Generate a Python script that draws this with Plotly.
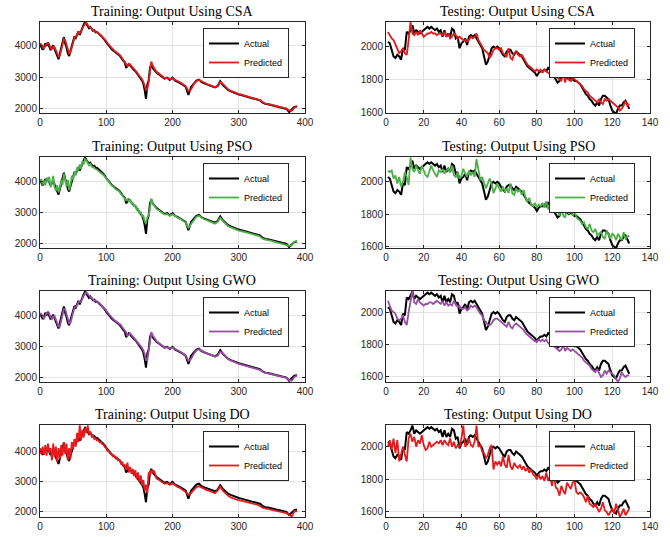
import plotly.graph_objects as go

# ---------------- data ----------------
# training sample positions (denser where the series is noisy)
train_x = list(range(0, 176, 2)) + list(range(176, 389, 4))
test_x = list(range(1, 130))

train_actual = [4060, 3980, 3880, 3950, 4080, 4000, 4110, 3980, 3870, 3950,
                4020, 3900, 3800, 3640, 3580, 3760, 3950, 4100, 4280, 4080,
                3960, 3760, 3680, 3850, 4000, 4180, 4300, 4250, 4380, 4460,
                4350, 4480, 4600, 4680, 4760, 4700, 4620, 4560, 4600, 4520,
                4480, 4500, 4430, 4440, 4390, 4360, 4320, 4280, 4240, 4180,
                4110, 4050, 4000, 3950, 3900, 3860, 3820, 3800, 3770, 3730,
                3700, 3620, 3580, 3520, 3480, 3300, 3380, 3420, 3380, 3320,
                3300, 3230, 3200, 3130, 3080, 3030, 2960, 2900, 2800, 2600,
                2320, 2780, 2900, 3300, 3420, 3300, 3230, 3200,
                3150, 3090, 3020, 2960, 2990, 2920, 2990, 2900, 2860, 2820,
                2760, 2700, 2440, 2700, 2800, 2900, 2930, 2850, 2810, 2780,
                2750, 2720, 2680, 2730, 2880, 2760, 2680, 2600, 2560, 2520,
                2490, 2460, 2440, 2410, 2390, 2360, 2340, 2320, 2300, 2270,
                2200, 2160, 2150, 2130, 2100, 2080, 2070, 2050, 2030, 2000,
                1900, 1980, 2060, 2080]

train_csa = [4080, 4050, 3950, 3920, 4020, 4060, 4080, 4050, 3920, 3900,
             3980, 3960, 3850, 3760, 3660, 3700, 3880, 4020, 4220, 4180,
             4020, 3850, 3760, 3800, 3960, 4120, 4260, 4280, 4340, 4440,
             4400, 4440, 4560, 4640, 4700, 4740, 4660, 4600, 4590, 4560,
             4500, 4490, 4460, 4430, 4410, 4370, 4340, 4300, 4260, 4210,
             4150, 4080, 4030, 3980, 3930, 3890, 3850, 3820, 3790, 3760,
             3720, 3670, 3610, 3560, 3510, 3420, 3360, 3430, 3420, 3360,
             3320, 3280, 3230, 3170, 3110, 3060, 3000, 2940, 2860, 2720,
             2600, 2640, 2850, 3200, 3500, 3380, 3280, 3230,
             3180, 3110, 3050, 2980, 2980, 2950, 2970, 2930, 2880, 2840,
             2780, 2720, 2560, 2620, 2780, 2880, 2920, 2870, 2820, 2790,
             2760, 2730, 2690, 2710, 2850, 2790, 2700, 2620, 2570, 2530,
             2500, 2470, 2450, 2420, 2400, 2370, 2350, 2330, 2310, 2280,
             2220, 2170, 2160, 2140, 2110, 2090, 2070, 2060, 2040, 2010,
             1950, 1940, 2040, 2090]

train_pso = [3980, 4080, 3900, 4020, 3880, 4120, 3980, 4150, 3820, 3950,
             4180, 3820, 3700, 3880, 3650, 3800, 4050, 3900, 4250, 4050,
             3850, 4050, 3720, 3900, 4180, 4050, 4300, 4200, 4450, 4350,
             4550, 4400, 4650, 4550, 4720, 4680, 4600, 4520, 4580, 4480,
             4460, 4420, 4400, 4380, 4350, 4300, 4280, 4250, 4200, 4160,
             4100, 4050, 3990, 3960, 3880, 3850, 3820, 3760, 3740, 3700,
             3680, 3600, 3570, 3490, 3460, 3380, 3450, 3350, 3420, 3300,
             3320, 3200, 3250, 3100, 3120, 3000, 3020, 2880, 2900, 2720,
             2680, 2850, 2900, 3150, 3450, 3300, 3220, 3180,
             3120, 3060, 2990, 2940, 2960, 2900, 2950, 2880, 2840, 2800,
             2740, 2680, 2520, 2640, 2760, 2870, 2900, 2830, 2790, 2760,
             2720, 2700, 2650, 2700, 2840, 2740, 2650, 2570, 2530, 2490,
             2460, 2430, 2410, 2390, 2360, 2340, 2310, 2300, 2270, 2240,
             2170, 2140, 2130, 2110, 2080, 2060, 2040, 2020, 2000, 1980,
             1940, 1960, 2070, 2100]

train_gwo = [4060, 4040, 3960, 3900, 3990, 4070, 4060, 4060, 3940, 3880,
             3960, 3980, 3860, 3760, 3640, 3640, 3840, 3990, 4200, 4200,
             4040, 3860, 3740, 3760, 3930, 4100, 4250, 4270, 4320, 4420,
             4420, 4420, 4540, 4630, 4700, 4740, 4680, 4610, 4580, 4570,
             4500, 4480, 4470, 4430, 4420, 4380, 4340, 4310, 4270, 4220,
             4160, 4090, 4030, 3980, 3930, 3890, 3850, 3820, 3800, 3760,
             3730, 3690, 3620, 3570, 3510, 3460, 3340, 3390, 3420, 3370,
             3320, 3290, 3230, 3180, 3120, 3070, 3010, 2950, 2880, 2760,
             2560, 2560, 2820, 3150, 3460, 3360, 3280, 3230,
             3170, 3100, 3030, 2970, 2970, 2940, 2960, 2920, 2870, 2830,
             2770, 2710, 2540, 2600, 2760, 2870, 2910, 2860, 2810, 2780,
             2750, 2720, 2680, 2700, 2830, 2780, 2680, 2600, 2550, 2510,
             2470, 2440, 2420, 2390, 2370, 2340, 2320, 2300, 2280, 2250,
             2190, 2150, 2140, 2120, 2090, 2070, 2050, 2040, 2020, 1990,
             1930, 1900, 2020, 2070]

train_do = [4100, 3900, 4150, 3880, 4200, 3850, 4250, 3950, 4100, 3700,
            4250, 3800, 4150, 3650, 4100, 3750, 4200, 3850, 4300, 3900,
            4250, 3700, 4100, 3750, 4300, 4050, 4400, 4150, 4600, 4300,
            4850, 4350, 4700, 4450, 4750, 4600, 4850, 4550, 4650, 4480,
            4520, 4400, 4430, 4350, 4360, 4290, 4300, 4230, 4220, 4130,
            4100, 4000, 4010, 3920, 3900, 3830, 3850, 3760, 3790, 3700,
            3720, 3600, 3650, 3500, 3560, 3380, 3620, 3300, 3480, 3260,
            3420, 3180, 3380, 3080, 3300, 2980, 3200, 2880, 3050, 2700,
            2900, 2620, 3300, 3200, 3380, 3300, 3360, 3200,
            3100, 3050, 2980, 2930, 2950, 2890, 2940, 2870, 2820, 2780,
            2720, 2660, 2560, 2620, 2720, 2820, 2850, 2800, 2750, 2720,
            2690, 2660, 2620, 2700, 2830, 2700, 2600, 2530, 2480, 2440,
            2410, 2390, 2370, 2350, 2320, 2300, 2280, 2260, 2240, 2200,
            2140, 2120, 2100, 2090, 2060, 2040, 2030, 2010, 1990, 1960,
            1920, 1850, 2030, 2020]

test_actual = [2030, 2020, 1980, 1940, 1930, 1950, 1940, 1920, 1990, 1980,
               2090, 2080, 2100, 2130, 2080, 2100, 2090, 2080, 2090, 2100,
               2110, 2120, 2110, 2120, 2110, 2100, 2110, 2090, 2100, 2060,
               2100, 2060, 2080, 2060, 2110, 2100, 2050, 2060, 1990, 2020,
               2030, 2050, 2010, 2060, 2070, 2060, 2070, 2050, 2030, 2010,
               1990, 1940, 1890, 1910, 1960, 1990, 2000, 1990, 2000, 1990,
               1970, 1950, 1940, 1970, 1980, 1980, 1960, 1950, 1970, 1960,
               1950, 1940, 1920, 1900, 1880, 1870, 1860, 1850, 1840, 1820,
               1840, 1850, 1850, 1860, 1850, 1870, 1860, 1850, 1820, 1800,
               1780, 1790, 1830, 1820, 1840, 1810, 1800, 1810, 1800, 1790,
               1790, 1780, 1770, 1750, 1730, 1710, 1700, 1680, 1670, 1650,
               1640, 1660, 1640, 1680, 1700, 1700, 1690, 1680, 1640, 1610,
               1600, 1590, 1620, 1640, 1640, 1660, 1670, 1640, 1620]

test_csa = [2090, 2070, 2050, 2040, 2010, 1990, 1960, 1970, 1990, 1960,
            1950, 2040, 2150, 2080, 2070, 2090, 2070, 2100, 2080, 2060,
            2070, 2080, 2080, 2090, 2080, 2080, 2070, 2080, 2080, 2070,
            2090, 2060, 2080, 2050, 2060, 2080, 2070, 2050, 2060, 2050,
            2040, 2040, 2030, 2040, 2060, 2050, 2060, 2080, 2040, 2020,
            2000, 1980, 1970, 1960, 1930, 1950, 1980, 1990, 1990, 1980,
            1990, 1960, 1950, 1940, 1990, 1930, 1920, 1960, 1970, 1950,
            1940, 1950, 1930, 1910, 1890, 1880, 1870, 1860, 1850, 1860,
            1850, 1860, 1840, 1860, 1850, 1840, 1830, 1850, 1830, 1820,
            1810, 1800, 1790, 1850, 1780, 1830, 1800, 1790, 1810, 1800,
            1790, 1780, 1770, 1760, 1740, 1730, 1720, 1700, 1690, 1680,
            1670, 1660, 1680, 1660, 1650, 1680, 1670, 1680, 1670, 1660,
            1650, 1640, 1630, 1610, 1620, 1640, 1670, 1640, 1650]

test_pso = [2070, 2060, 2070, 2020, 2040, 1990, 2030, 1970, 2000, 2060,
            2030, 1980, 2150, 2080, 2060, 2100, 2070, 2050, 2100, 2070,
            2040, 2030, 2060, 2100, 2070, 2050, 2030, 2070, 2060, 2080,
            2050, 2070, 2080, 2060, 2100, 2040, 2030, 2060, 2020, 2040,
            2080, 2050, 2030, 2070, 2040, 2060, 2030, 2140, 2060, 2010,
            2030, 2000, 1960, 1990, 2020, 1990, 1930, 1960, 1990, 1960,
            1940, 1970, 1940, 1960, 1930, 1990, 1930, 1920, 1960, 1940,
            1950, 1920, 1950, 1900, 1880, 1900, 1860, 1850, 1870, 1840,
            1860, 1850, 1870, 1840, 1880, 1830, 1870, 1820, 1860, 1810,
            1840, 1790, 1850, 1790, 1780, 1850, 1800, 1840, 1790, 1820,
            1780, 1770, 1760, 1740, 1750, 1720, 1710, 1740, 1700, 1690,
            1710, 1670, 1680, 1690, 1660, 1650, 1700, 1670, 1650, 1680,
            1670, 1640, 1680, 1660, 1640, 1690, 1650, 1660, 1670]

test_gwo = [2070, 2040, 2010, 2000, 1990, 1960, 1950, 1960, 1980, 1940,
            1920, 2000, 2060, 2130, 2060, 2050, 2080, 2060, 2050, 2040,
            2050, 2050, 2060, 2060, 2050, 2060, 2070, 2060, 2050, 2070,
            2040, 2060, 2040, 2050, 2040, 2070, 2050, 2030, 2040, 2020,
            2020, 2030, 2010, 2020, 2040, 2030, 2040, 2030, 2010, 1990,
            1980, 1950, 1940, 1920, 1920, 1930, 1950, 1960, 1960, 1950,
            1940, 1930, 1920, 1910, 1940, 1910, 1900, 1920, 1930, 1920,
            1910, 1900, 1890, 1870, 1860, 1850, 1840, 1830, 1820, 1820,
            1830, 1820, 1830, 1820, 1830, 1810, 1800, 1810, 1790, 1780,
            1770, 1760, 1770, 1800, 1760, 1780, 1770, 1760, 1770, 1760,
            1750, 1740, 1730, 1720, 1700, 1690, 1680, 1670, 1650, 1640,
            1630, 1650, 1620, 1600, 1610, 1640, 1620, 1640, 1630, 1620,
            1610, 1590, 1570, 1590, 1630, 1610, 1600, 1610, 1610]

test_do = [2000, 2040, 1980, 2050, 1960, 2040, 1910, 1950, 2000, 1950,
           1910, 2050, 2080, 2030, 2060, 2000, 2040, 2020, 2070, 2010,
           1980, 1990, 2030, 2000, 2010, 2020, 2030, 2020, 2040, 2010,
           2040, 2020, 2010, 2050, 2000, 2030, 1990, 2010, 2000, 2050,
           2130, 2000, 2020, 2050, 2010, 2000, 2030, 2130, 2000, 2010,
           1970, 1960, 1930, 1950, 1990, 2010, 1860, 1910, 1890, 1910,
           1880, 1940, 1890, 1870, 1950, 1880, 1860, 1900, 1880, 1870,
           1890, 1860, 1880, 1850, 1870, 1840, 1860, 1830, 1820, 1800,
           1830, 1800, 1820, 1790, 1840, 1790, 1820, 1760, 1830, 1750,
           1740, 1700, 1760, 1730, 1710, 1780, 1760, 1740, 1780, 1790,
           1720, 1710, 1720, 1710, 1690, 1660, 1700, 1650, 1640, 1630,
           1650, 1620, 1600, 1620, 1660, 1610, 1600, 1580, 1600, 1620,
           1590, 1650, 1610, 1570, 1590, 1620, 1580, 1600, 1620]

methods = ["CSA", "PSO", "GWO", "DO"]
method_colors = ["#e41a1c", "#4daf4a", "#984ea3", "#e41a1c"]
train_pred = [train_csa, train_pso, train_gwo, train_do]
test_pred = [test_csa, test_pso, test_gwo, test_do]
train_yranges = [[1870, 4760], [1870, 4785], [1860, 4780], [1835, 4860]]
test_yranges = [[1595, 2150], [1592, 2153], [1569, 2130], [1569, 2133]]
train_yticks = [2000, 3000, 4000]
test_yticks = [1600, 1800, 2000]
train_xticks = [0, 100, 200, 300, 400]
test_xticks = [0, 20, 40, 60, 80, 100, 120, 140]

# ---------------- layout geometry ----------------
W, H = 670, 537
left_dom = [40 / W, 305 / W]
right_dom = [386 / W, 650 / W]
rows_px = [(22, 113), (157, 248), (291, 382), (425, 517)]

fig = go.Figure()
axis_common = dict(showline=True, linecolor="#262626", linewidth=1, mirror="ticks",
                   ticks="inside", ticklen=3, tickcolor="#262626", automargin=False,
                   showgrid=True, gridcolor="#e3e3e3", gridwidth=1, zeroline=False,
                   tickfont=dict(family="Liberation Sans, Arial, sans-serif", size=10, color="#262626"))

annotations = []
legends = {}
for r in range(4):
    top_px, bot_px = rows_px[r]
    ydom = [1 - bot_px / H, 1 - top_px / H]
    for c in range(2):
        k = r * 2 + c + 1
        xa = "x" if k == 1 else f"x{k}"
        ya = "y" if k == 1 else f"y{k}"
        lg = "legend" if k == 1 else f"legend{k}"
        if c == 0:
            xs, ya_vals, pr = train_x, train_actual, train_pred[r]
            xrng, yrng = [0, 400], train_yranges[r]
            xt, yt = train_xticks, train_yticks
            dom = left_dom
            title = f"Training: Output Using {methods[r]}"
            lx = 203 / W
        else:
            xs, ya_vals, pr = test_x, test_actual, test_pred[r]
            xrng, yrng = [0, 140], test_yranges[r]
            xt, yt = test_xticks, test_yticks
            dom = right_dom
            title = f"Testing: Output Using {methods[r]}"
            lx = 549 / W
        fig.add_trace(go.Scatter(x=xs, y=ya_vals, mode="lines", name="Actual",
                                 line=dict(color="black", width=2),
                                 xaxis=xa, yaxis=ya, legend=lg))
        fig.add_trace(go.Scatter(x=xs, y=pr, mode="lines", name="Predicted",
                                 line=dict(color=method_colors[r], width=1.8),
                                 xaxis=xa, yaxis=ya, legend=lg))
        xkey = "xaxis" if k == 1 else f"xaxis{k}"
        ykey = "yaxis" if k == 1 else f"yaxis{k}"
        fig.layout[xkey] = dict(domain=dom, range=xrng, tickvals=xt, anchor=ya, **axis_common)
        fig.layout[ykey] = dict(domain=ydom, range=yrng, tickvals=yt, anchor=xa, **axis_common)
        annotations.append(dict(text=title, x=(dom[0] + dom[1]) / 2, y=1 - (top_px - 1) / H,
                                xref="paper", yref="paper", xanchor="center", yanchor="bottom",
                                showarrow=False,
                                font=dict(family="Liberation Serif, Times New Roman, serif", size=14,
                                          color="black", weight="normal")))
        legends[lg] = dict(x=lx, y=1 - (top_px + 6) / H, xanchor="left", yanchor="top",
                           bgcolor="white", bordercolor="#262626", borderwidth=1,
                           font=dict(family="Liberation Sans, Arial, sans-serif", size=9, color="black"),
                           tracegroupgap=0, itemwidth=30)

fig.update_layout(width=W, height=H, margin=dict(l=0, r=0, t=0, b=0),
                  paper_bgcolor="white", plot_bgcolor="white",
                  annotations=annotations, showlegend=True, **legends)
# remove the default page margin so the 670x537 figure fills the window exactly
fig.write_html("out.html", config={"displayModeBar": False},
               post_script="document.body.style.margin='0px';")
